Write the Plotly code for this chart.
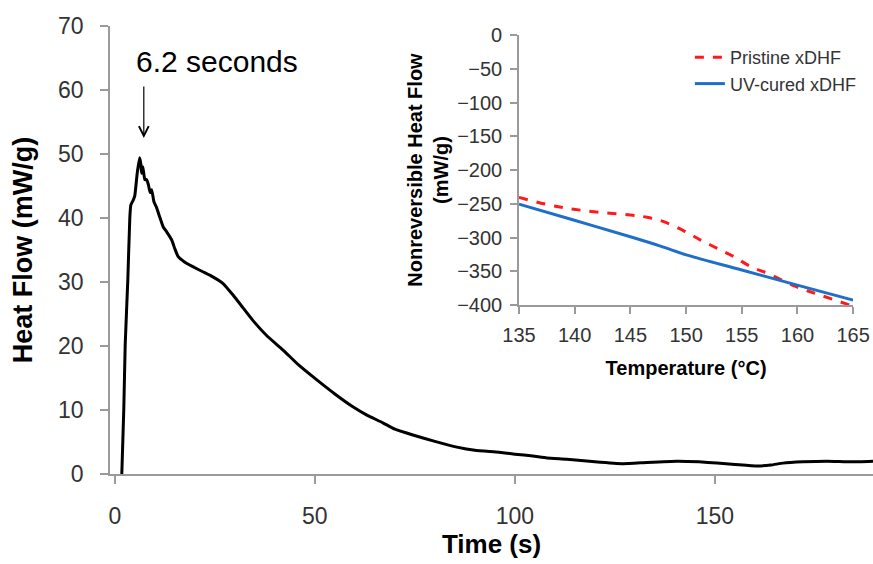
import plotly.graph_objects as go

# Main curve: time (s) vs heat flow (mW/g)
time_s = [1.75, 2.25, 2.6, 3.25, 3.75, 4.0, 4.6, 5.0, 5.6, 6.2, 6.5, 6.7, 7.0, 7.5, 7.9, 8.4, 8.8,
          9.2, 9.8, 10.4, 11.2, 12.1, 13.0, 14.2, 15.0, 15.8, 17.5, 19.5, 22, 24.5, 27, 29.5, 32,
          34.5, 38, 42, 46, 50.5, 55, 59.5, 63, 67, 70, 74.5, 80, 85.5, 90, 96, 100, 104.5, 108,
          113, 120, 127, 133, 140.5, 146, 150.5, 155, 160.5, 164, 167, 172, 178, 184, 189.5]
heat_flow = [0, 10.2, 20.2, 30.3, 40, 42, 42.8, 43.5, 47, 49.4, 48.5, 47.0, 48.0, 46.0, 46.0, 45.2, 44.0,
             44.4, 42.5, 41.7, 40.2, 38.6, 37.8, 36.6, 35.2, 34.0, 33.1, 32.4, 31.6, 30.8, 29.8, 28.0, 26.0,
             24.0, 21.6, 19.4, 17.0, 14.7, 12.5, 10.5, 9.2, 8.0, 7.0, 6.1, 5.1, 4.2, 3.7, 3.4, 3.1, 2.8, 2.5,
             2.3, 1.9, 1.6, 1.8, 2.0, 1.9, 1.7, 1.5, 1.25, 1.4, 1.7, 1.9, 2.0, 1.9, 2.0]

# Inset: temperature (°C) vs nonreversible heat flow (mW/g)
temp_pristine = [135, 137.8, 139.9, 142.3, 145, 146.5, 148, 149.8, 151.3, 152.8, 154.3, 155.8, 157.3, 159.9, 162, 165]
hf_pristine = [-240.5, -252, -258, -262.7, -266.7, -270, -276.5, -290, -303.7, -316, -328.4, -343, -353, -372.8, -385, -401.5]
temp_uv = [135, 139.9, 145, 147.7, 150.1, 155, 159.9, 165]
hf_uv = [-250.4, -274, -298.8, -312.6, -326, -348, -370, -392.6]

main_xticks = [0, 50, 100, 150]
main_yticks = [0, 10, 20, 30, 40, 50, 60, 70]
inset_xticks = [135, 140, 145, 150, 155, 160, 165]
inset_yticks = [0, -50, -100, -150, -200, -250, -300, -350, -400]

FONT = "Liberation Sans, Arial, sans-serif"
AXIS_GRAY = "#9a9a9a"
TICK_COLOR = "#333333"

fig = go.Figure()
fig.add_trace(go.Scatter(x=time_s, y=heat_flow, mode="lines",
                         line=dict(color="black", width=3, shape="spline", smoothing=0.4),
                         showlegend=False, xaxis="x", yaxis="y"))
fig.add_trace(go.Scatter(x=temp_pristine, y=hf_pristine, mode="lines", name="Pristine xDHF",
                         line=dict(color="#ff1a1a", width=3, dash="dash", shape="spline"),
                         xaxis="x2", yaxis="y2"))
fig.add_trace(go.Scatter(x=temp_uv, y=hf_uv, mode="lines", name="UV-cured xDHF",
                         line=dict(color="#1f6fc8", width=3, shape="spline"),
                         xaxis="x2", yaxis="y2"))

fig.update_layout(
    width=873, height=564,
    margin=dict(l=110, r=0, t=26, b=90),
    plot_bgcolor="white", paper_bgcolor="white",
    font=dict(family=FONT, color="black"),
    xaxis=dict(range=[-1.2, 189.5], tickvals=main_xticks, showgrid=False, zeroline=False,
               showline=True, linecolor=AXIS_GRAY, linewidth=1.5, automargin=False,
               ticks="outside", ticklen=8, tickcolor=AXIS_GRAY, tickwidth=1.5,
               tickfont=dict(size=23, color=TICK_COLOR), ticklabelstandoff=13,
               title=dict(text="<b>Time (s)</b>", font=dict(size=26), standoff=4),
               domain=[0, 1], anchor="y"),
    yaxis=dict(range=[0, 70], tickvals=main_yticks, showgrid=False, zeroline=False,
               showline=True, linecolor=AXIS_GRAY, linewidth=1.5, automargin=False,
               ticks="outside", ticklen=8, tickcolor=AXIS_GRAY, tickwidth=1.5,
               tickfont=dict(size=23, color=TICK_COLOR), ticklabelstandoff=12,
               title=dict(text="<b>Heat Flow (mW/g)</b>", font=dict(size=27), standoff=18),
               domain=[0, 1], anchor="x"),
    xaxis2=dict(range=[135, 165], tickvals=inset_xticks, showgrid=False, zeroline=False,
                showline=True, linecolor=AXIS_GRAY, linewidth=1.5, automargin=False,
                ticks="outside", ticklen=7, tickcolor=AXIS_GRAY, tickwidth=1.5,
                tickfont=dict(size=20, color=TICK_COLOR), ticklabelstandoff=4,
                title=dict(text="<b>Temperature (°C)</b>", font=dict(size=20), standoff=16),
                domain=[0.536, 0.974], anchor="y2"),
    yaxis2=dict(range=[-400, 0], tickvals=inset_yticks, showgrid=False, zeroline=False,
                showline=True, linecolor=AXIS_GRAY, linewidth=1.5, automargin=False,
                ticks="outside", ticklen=7, tickcolor=AXIS_GRAY, tickwidth=1.5,
                tickfont=dict(size=20, color=TICK_COLOR), ticklabelstandoff=4,
                title=dict(text="<b>Nonreversible Heat Flow<br>(mW/g)</b>", font=dict(size=20), standoff=3),
                domain=[0.377, 0.98], anchor="x2"),
    legend=dict(x=0.76, y=0.971, xanchor="left", yanchor="top", bgcolor="rgba(0,0,0,0)",
                font=dict(size=18, color=TICK_COLOR), tracegroupgap=0, itemwidth=30),
    annotations=[
        dict(x=7.25, y=52.5, ax=7.25, ay=60.8, xref="x", yref="y", axref="x", ayref="y",
             text="", showarrow=True, arrowhead=5, arrowsize=1.6, arrowwidth=1.2, arrowcolor="black"),
        dict(x=4.8, y=64.5, xref="x", yref="y", text="6.2 seconds", showarrow=False,
             xanchor="left", yanchor="middle", font=dict(size=30, color="black")),
    ],
)

fig.write_html("out.html")
